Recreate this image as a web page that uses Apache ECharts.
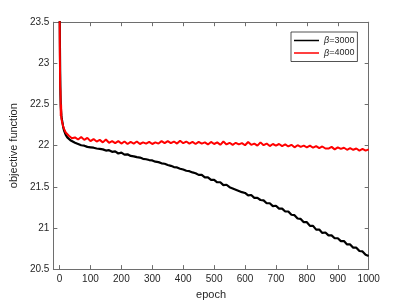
<!DOCTYPE html>
<html><head><meta charset="utf-8">
<script src="https://cdn.jsdelivr.net/npm/echarts@6/dist/echarts.min.js"></script>
<style>html,body{margin:0;padding:0;background:#fff}#c{width:407px;height:305px}</style>
</head><body><div id="c"></div>
<script>
const epochs = [0,1,2,3,4,5,6,7,8,10,12,15,20,25,30,35,40,50,60,70,80,90,100,110,120,130,140,150,160,170,180,190,200,210,220,230,240,250,260,270,280,290,300,310,320,330,340,350,360,370,380,390,400,410,420,430,440,450,460,470,480,490,500,510,520,530,540,550,560,570,580,590,600,610,620,630,640,650,660,670,680,690,700,710,720,730,740,750,760,770,780,790,800,810,820,830,840,850,860,870,880,890,900,910,920,930,940,950,960,970,980,990,1000];
const beta3000 = [23.9,23.3,22.9,22.62,22.48,22.42,22.37,22.33,22.31,22.27,22.22,22.18,22.13,22.10,22.08,22.065,22.05,22.035,22.02,22.005,22.0,21.985,21.98,21.975,21.965,21.96,21.955,21.94,21.945,21.925,21.93,21.905,21.915,21.89,21.895,21.875,21.87,21.86,21.855,21.84,21.835,21.825,21.82,21.805,21.8,21.785,21.78,21.765,21.755,21.74,21.735,21.72,21.71,21.695,21.69,21.675,21.665,21.645,21.645,21.615,21.615,21.585,21.585,21.555,21.555,21.52,21.525,21.495,21.48,21.465,21.45,21.435,21.425,21.395,21.4,21.365,21.365,21.34,21.335,21.3,21.3,21.265,21.27,21.235,21.235,21.2,21.2,21.16,21.155,21.115,21.11,21.07,21.07,21.025,21.025,20.98,20.98,20.94,20.945,20.91,20.91,20.875,20.875,20.84,20.84,20.8,20.8,20.76,20.76,20.72,20.715,20.675,20.66];
const beta4000 = [23.9,23.1,22.72,22.66,22.36,22.5,22.34,22.32,22.29,22.26,22.23,22.2,22.16,22.14,22.12,22.11,22.09,22.1,22.075,22.105,22.07,22.095,22.055,22.08,22.05,22.07,22.04,22.075,22.035,22.055,22.03,22.055,22.025,22.05,22.02,22.045,22.025,22.05,22.02,22.04,22.025,22.045,22.02,22.04,22.025,22.055,22.03,22.055,22.03,22.05,22.025,22.06,22.03,22.05,22.025,22.045,22.02,22.045,22.025,22.04,22.015,22.045,22.02,22.04,22.01,22.05,22.015,22.035,22.01,22.035,22.015,22.03,22.005,22.045,22.01,22.025,22.0,22.04,22.005,22.025,21.995,22.02,22.0,22.02,21.995,22.015,21.99,22.01,21.98,22.005,21.985,22.0,21.98,22.0,21.975,21.995,21.97,21.99,21.965,21.965,21.985,21.955,21.98,21.96,21.975,21.95,21.97,21.95,21.965,21.94,21.96,21.94,21.955];
const seriesNames = ['β=3000','β=4000'];
const xTicks = [0,100,200,300,400,500,600,700,800,900,1000];

const chart = echarts.init(document.getElementById('c'), null, {renderer:'canvas'});
const axisCol = '#6e6e6e';
const txtCol = '#262626';
const font = 'Liberation Sans, Arial, Helvetica, sans-serif';
chart.setOption({
  animation:false,
  textStyle:{fontFamily:font},
  grid:{left:52.7, right:38.3, top:22.2, bottom:33.3, containLabel:false},
  legend:{
    orient:'vertical', left:291, top:32, padding:[3,3,3,3],
    backgroundColor:'#fff', borderColor:'#262626', borderWidth:0.8,
    itemWidth:25, itemHeight:1.5, itemGap:1.5, itemTextGap:2, icon:'rect',
    data:seriesNames,
    formatter:function(n){return '{i|β}' + n.slice(1);},
    textStyle:{fontSize:9, color:txtCol, lineHeight:11, fontFamily:font,
      rich:{i:{fontStyle:'italic', fontSize:9, color:txtCol, fontFamily:font}}}
  },
  xAxis:[{
    type:'value', min:-20, max:1000, position:'bottom',
    name:'epoch', nameLocation:'middle', nameGap:17,
    nameTextStyle:{fontSize:11, color:txtCol},
    axisLine:{show:true, onZero:false, lineStyle:{color:axisCol, width:1}},
    axisTick:{show:true, inside:true, length:4, customValues:xTicks, lineStyle:{color:axisCol}},
    axisLabel:{customValues:xTicks, fontSize:10, color:txtCol, margin:5, formatter:function(v){return String(v);}},
    splitLine:{show:false}
  },{
    type:'value', min:-20, max:1000, position:'top',
    axisLine:{show:true, onZero:false, lineStyle:{color:axisCol, width:1}},
    axisTick:{show:true, inside:true, length:4, customValues:xTicks, lineStyle:{color:axisCol}},
    axisLabel:{show:false}, splitLine:{show:false}
  }],
  yAxis:[{
    type:'value', min:20.5, max:23.5, interval:0.5, position:'left',
    name:'objective function', nameLocation:'middle', nameGap:27,
    nameTextStyle:{fontSize:11, color:txtCol},
    axisLine:{show:true, onZero:false, lineStyle:{color:axisCol, width:1}},
    axisTick:{show:true, inside:true, length:4, lineStyle:{color:axisCol}},
    axisLabel:{fontSize:10, color:txtCol, margin:4},
    splitLine:{show:false}
  },{
    type:'value', min:20.5, max:23.5, interval:0.5, position:'right',
    axisLine:{show:true, onZero:false, lineStyle:{color:axisCol, width:1}},
    axisTick:{show:true, inside:true, length:4, lineStyle:{color:axisCol}},
    axisLabel:{show:false}, splitLine:{show:false}
  }],
  series:[
    {name:seriesNames[0], type:'line', symbol:'none', clip:true,
     data:epochs.map((e,i)=>[e,beta3000[i]]),
     lineStyle:{color:'#000', width:2.2}, itemStyle:{color:'#000'}},
    {name:seriesNames[1], type:'line', symbol:'none', clip:true,
     data:epochs.map((e,i)=>[e,beta4000[i]]),
     lineStyle:{color:'#ff0000', width:2}, itemStyle:{color:'#ff0000'}}
  ]
});
</script></body></html>
